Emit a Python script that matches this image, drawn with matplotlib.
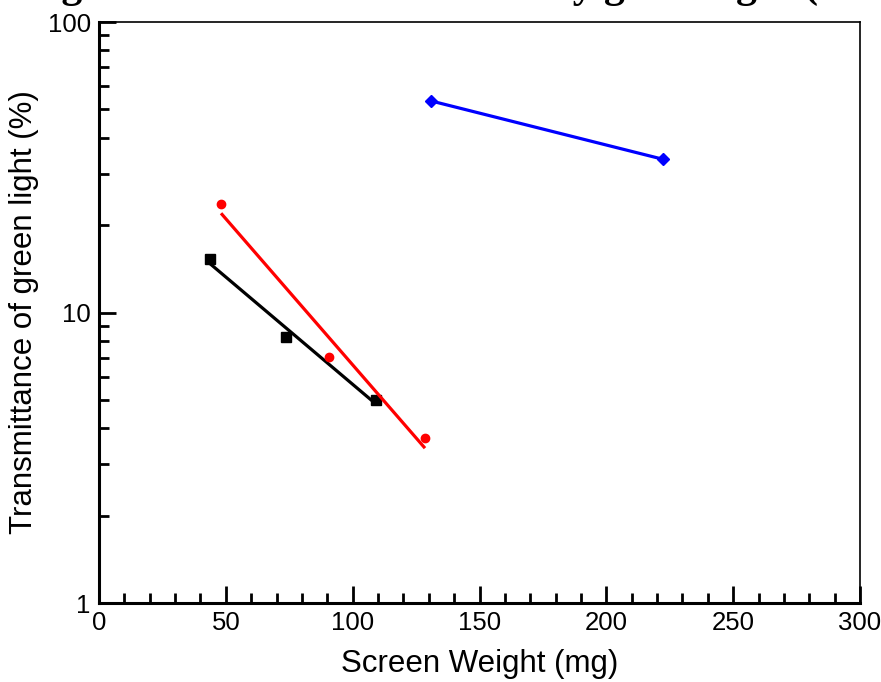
import matplotlib
matplotlib.use('Agg')
import matplotlib.pyplot as plt
import numpy as np
from matplotlib.ticker import LogLocator, MultipleLocator, NullFormatter, FixedFormatter, FixedLocator

# data
black_x = [43.8, 73.7, 109.2]
black_y = [15.3, 8.24, 5.0]
red_x = [48.1, 90.7, 128.5]
red_y = [23.6, 7.03, 3.70]
blue_x = [130.9, 222.3]
blue_y = [53.5, 33.7]

x_ticks = [0, 50, 100, 150, 200, 250, 300]
y_ticks = [1, 10, 100]
y_labels = ['1', '10', '100']

plt.rcParams['font.family'] = ['Liberation Sans', 'DejaVu Sans']


def exp_fit(x, y):
    # straight line in log space, drawn between first and last point
    k, b = np.polyfit(x, np.log10(y), 1)
    xs = np.array([min(x), max(x)])
    return xs, 10 ** (k * xs + b)


fig = plt.figure(figsize=(8.81, 6.82), dpi=100)
ax = fig.add_axes([0.1124, 0.1158, 0.8638, 0.8519])

for x, y, c, m, ms in [(black_x, black_y, 'black', 's', 7),
                       (red_x, red_y, 'red', 'o', 6),
                       (blue_x, blue_y, 'blue', 'D', 6)]:
    fx, fy = exp_fit(x, y)
    ax.plot(fx, fy, color=c, linewidth=2.3, solid_capstyle='butt')
    ax.plot(x, y, linestyle='none', marker=m, markersize=ms, color=c)

ax.set_yscale('log')
ax.set_xlim(0, 300)
ax.set_ylim(1, 100)

ax.xaxis.set_major_locator(FixedLocator(x_ticks))
ax.xaxis.set_minor_locator(MultipleLocator(10))
ax.yaxis.set_major_locator(FixedLocator(y_ticks))
ax.yaxis.set_major_formatter(FixedFormatter(y_labels))
ax.yaxis.set_minor_locator(LogLocator(base=10, subs=np.arange(2, 10)))
ax.yaxis.set_minor_formatter(NullFormatter())

ax.tick_params(which='both', direction='in', top=False, right=False,
               labelsize=18.5, width=2, pad=6)
ax.tick_params(which='major', length=12)
ax.tick_params(which='minor', length=7)

ax.spines['left'].set_linewidth(2.2)
ax.spines['bottom'].set_linewidth(2.2)
ax.spines['top'].set_linewidth(1.2)
ax.spines['right'].set_linewidth(1.2)

ax.set_xlabel('Screen Weight (mg)', fontsize=22.5, labelpad=10)
ax.set_ylabel('Transmittance of green light (%)', fontsize=22.5, labelpad=6)

# title is mostly cut off at the top of the reference
fig.text(0.025, 1 + 3 / 682, 'Light transmission measured by green light (550 nm)',
         fontsize=30, fontweight='bold', family='Liberation Serif',
         ha='left', va='baseline')

fig.savefig('out.png', dpi=100)
